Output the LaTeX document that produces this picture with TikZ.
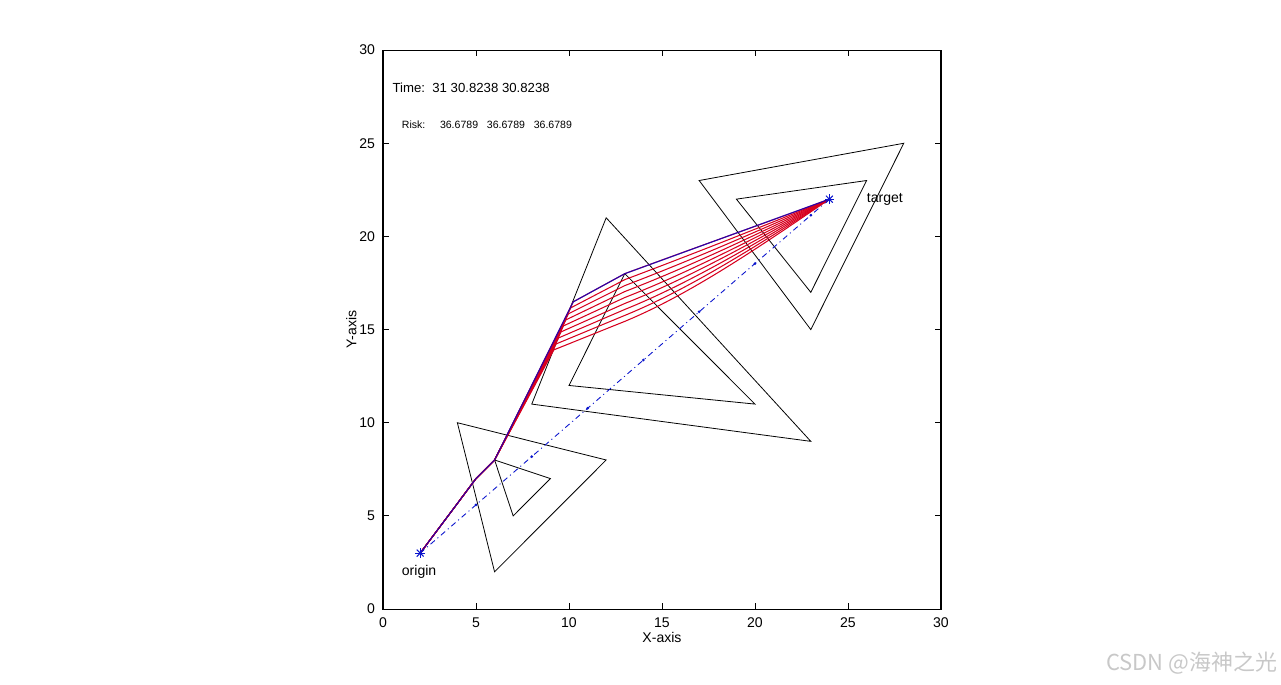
\documentclass[tikz,border=0pt]{standalone}
\usepackage{fontspec}
\setmainfont{Liberation Sans}
\newfontfamily\cjkfont{Noto Sans CJK SC}
\usetikzlibrary{calc}
\usepackage{xcolor}
\definecolor{pathblue}{RGB}{0,0,200}
\definecolor{pathred}{RGB}{215,0,30}
\definecolor{markblue}{RGB}{10,20,205}
\definecolor{wmgray}{RGB}{200,200,200}

\newcommand{\starmark}[1]{%
  \foreach \a in {0,45,90,135}{
    \draw[markblue,line width=0.6pt] ($(#1)+(\a:0.26)$) -- ($(#1)+(\a+180:0.26)$);
  }}

\begin{document}
\begin{tikzpicture}[x=0.372cm,y=0.3726cm,
    obstacle/.style={black,line width=0.45pt,line join=miter},
    redpath/.style={pathred,line width=0.6pt,line join=round},
    bluepath/.style={pathblue,line width=0.65pt,line join=round},
    ticklabel/.style={font=\fontsize{8}{9}\selectfont},
    infotext/.style={anchor=west,inner sep=0pt,font=\fontsize{7.5}{9}\selectfont}]

  \useasboundingbox (-20.59,-4.026) rectangle (48.28,32.69);

  % ── AXES BOX AND TICKS ─────────────────────────────────────────────────────
  \draw[black,line width=0.6pt] (0,0) rectangle (30,30);
  \foreach \v in {0,5,...,30}{
    \draw[black,line width=0.45pt] (\v,0) -- (\v,0.32);
    \draw[black,line width=0.45pt] (\v,30) -- (\v,29.68);
    \draw[black,line width=0.45pt] (0,\v) -- (0.32,\v);
    \draw[black,line width=0.45pt] (30,\v) -- (29.68,\v);
    \node[ticklabel,anchor=north] (xt\v) at (\v,-0.15) {\v};
    \node[ticklabel,anchor=east] (yt\v) at (-0.1,\v) {\v};
  }
  \node[ticklabel] (xlabel) at (15,-1.5) {X-axis};
  \node[ticklabel,rotate=90] (ylabel) at (-1.7,15) {Y-axis};

  % ── OBSTACLES ──────────────────────────────────────────────────────────────
  \draw[obstacle] (4,10) -- (12,8) -- (6,2) -- cycle;
  \draw[obstacle] (6,8) -- (9,7) -- (7,5) -- cycle;

  \draw[obstacle] (12,21) -- (23,9) -- (8,11) -- cycle;
  \draw[obstacle] (13,18) -- (20,11) -- (10,12) -- cycle;

  \draw[obstacle] (17,23) -- (28,25) -- (23,15) -- cycle;
  \draw[obstacle] (19,22) -- (26,23) -- (23,17) -- cycle;

  % ── START / GOAL ───────────────────────────────────────────────────────────
  \coordinate (origin) at (2,3);
  \coordinate (target) at (24,22);

  % straight reference line
  \draw[markblue,line width=0.5pt,dash pattern=on 3.2pt off 2pt on 0.6pt off 2pt]
    (origin) -- (target);
  \foreach \x in {5,8,...,23}{
    \fill[markblue] (\x,{3+19/22*(\x-2)}) circle (0.85pt);
  }

  % ── CANDIDATE PATHS (red) ──────────────────────────────────────────────────
  \foreach \k in {0,...,8}{
    \pgfmathsetmacro{\s}{1-0.038*\k}
    \pgfmathsetmacro{\px}{6+4.23*\s+0.03*\k}
    \pgfmathsetmacro{\py}{8+8.49*\s}
    \pgfmathsetmacro{\ya}{18-0.32*\k}
    \pgfmathsetmacro{\yb}{\ya+1.33+0.02*\k}
    \pgfmathsetmacro{\yc}{20.67-0.14*\k}
    \draw[redpath] (origin) -- (5,7) -- (6,8) -- (\px,\py) -- (13,\ya)
      .. controls (16.6,\yb) and (20.4,\yc) .. (target);
  }

  % ── BEST PATH (blue) ───────────────────────────────────────────────────────
  \draw[bluepath,opacity=0.8] (origin) -- (5,7) -- (6,8) -- (10.23,16.49) -- (13,18) -- (target);

  \starmark{origin}
  \starmark{target}

  % ── LABELS ─────────────────────────────────────────────────────────────────
  \node[infotext,font=\fontsize{8}{9}\selectfont] (originlbl) at (1,2) {origin};
  \node[infotext,font=\fontsize{8}{9}\selectfont] (targetlbl) at (26,22) {target};

  \node[infotext] (timelbl) at (0.5,28) {Time:\ \ 31 30.8238 30.8238};
  \node[infotext,font=\fontsize{6}{7}\selectfont] (risklbl) at (1,26)
    {Risk:\ \ \ \ \ 36.6789\ \ \ 36.6789\ \ \ 36.6789};

  % ── WATERMARK ──────────────────────────────────────────────────────────────
  \node[anchor=east,inner sep=0pt,text=wmgray,font=\fontsize{12.5}{14}\selectfont\cjkfont]
    (wm) at (48.1,-2.89) {CSDN @海神之光};

\end{tikzpicture}
\end{document}
